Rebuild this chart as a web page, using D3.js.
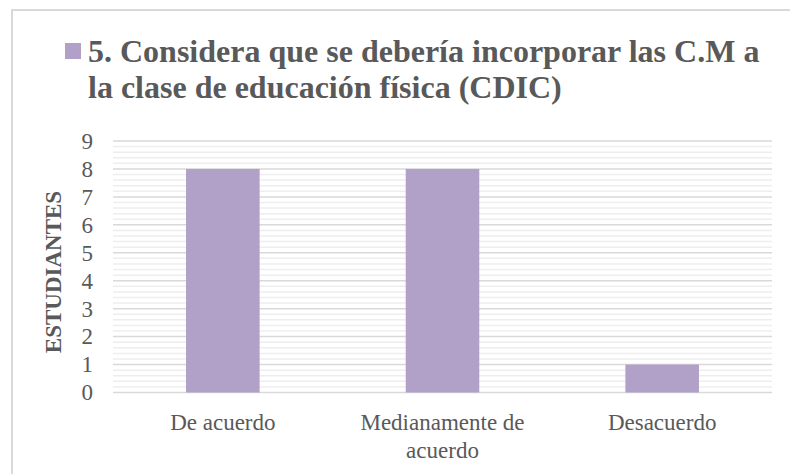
<!DOCTYPE html>
<html>
<head>
<meta charset="utf-8">
<script src="https://cdn.jsdelivr.net/npm/d3@7"></script>
<style>
  html, body { margin: 0; padding: 0; background: #fff; }
  svg { display: block; }
  svg text { font-family: "Liberation Serif", "Times New Roman", serif; }
</style>
</head>
<body>
<svg id="chart" width="790" height="474"></svg>
<script>
// Survey answers and the number of students who gave each one
const categories = [["De acuerdo"], ["Medianamente de", "acuerdo"], ["Desacuerdo"]];
const values = [8, 8, 1];
const yTicks = [0, 1, 2, 3, 4, 5, 6, 7, 8, 9];
const titleLines = ["5. Considera que se debería incorporar las C.M a", "la clase de educación física (CDIC)"];
const yTitle = "ESTUDIANTES";

const svg = d3.select("#chart");
const W = 790, H = 474;
const margin = { left: 113, right: 18, top: 141, bottom: 81.5 };
const barColor = "#b1a0c7";
const textColor = "#595959";

svg.append("rect").attr("x", 0).attr("y", 0).attr("width", W).attr("height", H).attr("fill", "#fff");
// chart area frame
svg.append("rect")
  .attr("x", 12).attr("y", 10).attr("width", W + 20).attr("height", H + 20)
  .attr("fill", "none").attr("stroke", "#d9d9d9").attr("stroke-width", 2);

const x = d3.scaleBand()
  .domain(d3.range(values.length))
  .range([margin.left, W - margin.right])
  .paddingInner(0.665).paddingOuter(0.3325);

const y = d3.scaleLinear().domain([0, 9]).range([H - margin.bottom, margin.top]);

// minor gridlines every 0.2
const minor = d3.range(0, 9.0001, 0.2).filter(v => Math.abs(v - Math.round(v)) > 1e-6);
svg.append("g").selectAll("line").data(minor).join("line")
  .attr("x1", margin.left).attr("x2", W - margin.right)
  .attr("y1", d => y(d)).attr("y2", d => y(d))
  .attr("stroke", "#eeeeee").attr("stroke-width", 1.5);

// major gridlines
svg.append("g").selectAll("line").data(yTicks).join("line")
  .attr("x1", margin.left).attr("x2", W - margin.right)
  .attr("y1", d => y(d)).attr("y2", d => y(d))
  .attr("stroke", "#d9d9d9").attr("stroke-width", 1.5);

// bars
svg.append("g").selectAll("rect").data(values).join("rect")
  .attr("x", (d, i) => x(i)).attr("width", x.bandwidth())
  .attr("y", d => y(d)).attr("height", d => y(0) - y(d))
  .attr("fill", barColor);

// y axis tick labels
const yAxis = d3.axisLeft(y).tickValues(yTicks).tickSize(0).tickPadding(20);
const gy = svg.append("g").attr("transform", `translate(${margin.left},0)`).call(yAxis);
gy.select(".domain").remove();
gy.selectAll("text")
  .attr("font-family", null).attr("font-size", 23).attr("fill", textColor);
gy.attr("font-family", null);

// category labels
const gx = svg.append("g");
categories.forEach((lines, i) => {
  const cx = x(i) + x.bandwidth() / 2;
  const t = gx.append("text")
    .attr("x", cx).attr("y", 430)
    .attr("text-anchor", "middle").attr("font-size", 23)
    .attr("fill", textColor);
  lines.forEach((l, k) => t.append("tspan").attr("x", cx).attr("dy", k === 0 ? 0 : 28).text(l));
});

// y axis title
svg.append("text")
  .attr("transform", "translate(61,272) rotate(-90)")
  .attr("text-anchor", "middle").attr("font-size", 23)
  .attr("font-weight", "bold").attr("fill", textColor).text(yTitle);

// legend marker and title
svg.append("rect").attr("x", 65).attr("y", 43).attr("width", 16).attr("height", 16).attr("fill", barColor);
const title = svg.append("text").attr("font-size", 32)
  .attr("font-weight", "bold").attr("fill", textColor);
titleLines.forEach((l, k) => title.append("tspan").attr("x", 88).attr("y", 62 + k * 36).text(l));
</script>
</body>
</html>
